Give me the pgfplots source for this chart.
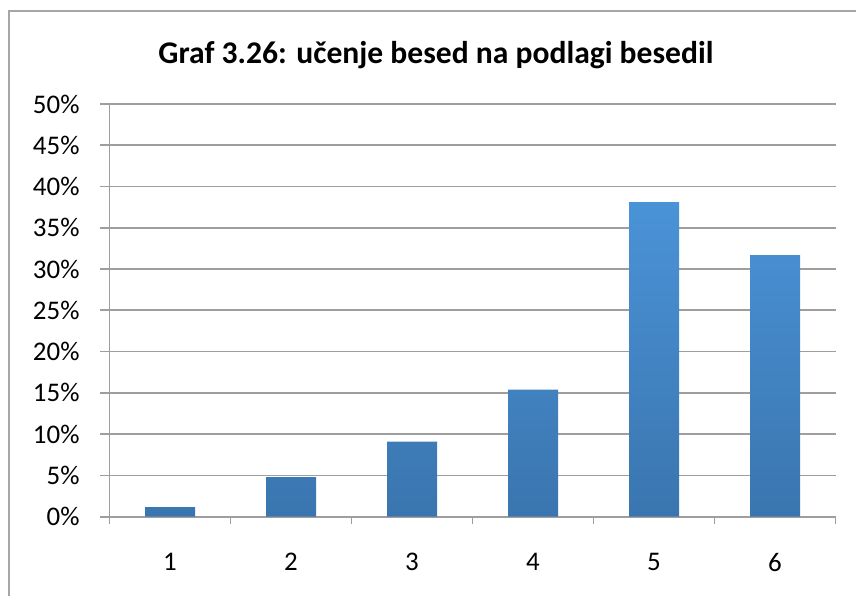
\documentclass[border=0pt]{standalone}
\usepackage{pgfplots}
\pgfplotsset{compat=1.18}
\usepackage{fontspec}
\setmainfont{Carlito}
\definecolor{gridgray}{HTML}{9E9E9E}
\definecolor{frame}{HTML}{A6A6A6}
\definecolor{bartop}{HTML}{4A93D7}
\definecolor{barbot}{HTML}{3A75AF}
\begin{document}
\begin{tikzpicture}[x=1bp,y=1bp]
\path[use as bounding box] (0,0) rectangle (856,596);
\draw[frame,line width=1.5bp] (9,-20) rectangle (880,585);
\node[anchor=base,font=\fontsize{31.7}{36}\selectfont\bfseries] at (436,532.7) {Graf 3.26: učenje besed na podlagi besedil};
\begin{axis}[
  at={(109.5bp,79.3bp)}, anchor=south west,
  scale only axis, width=726bp, height=412.7bp,
  xmin=0.5, xmax=6.5, ymin=0, ymax=50,
  axis x line*=bottom, axis y line*=left,
  axis line style={gridgray,line width=1.7bp},
  xtick={1,2,3,4,5,6},
  minor xtick={0.5,1.5,2.5,3.5,4.5,5.5,6.5},
  major x tick style={draw=none},
  minor x tick style={gridgray,line width=1.7bp},
  minor tick length=7bp,
  ytick={0,5,...,50},
  major y tick style={gridgray,line width=1.7bp},
  major tick length=9bp,
  tick align=outside,
  ymajorgrids,
  major grid style={gridgray,line width=1.7bp},
  yticklabel={\pgfmathprintnumber{\tick}\%},
  /pgf/number format/assume math mode=true,
  tick label style={font=\fontsize{27}{32}\selectfont,text=black},
  xticklabel style={yshift=-24bp},
  yticklabel style={xshift=-17.5bp},
  ybar, bar width=50bp,
]
\addplot[draw=none, top color=bartop, bottom color=barbot, bar shift=0pt]
  coordinates {(1,1.15) (2,4.8) (3,9.1) (4,15.4) (5,38.1) (6,31.7)};
\end{axis}
\end{tikzpicture}
\end{document}
